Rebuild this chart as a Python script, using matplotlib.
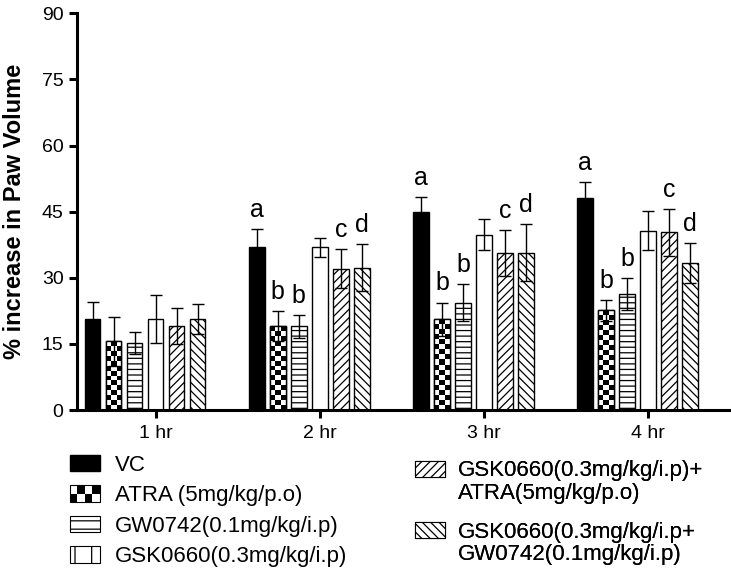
import numpy as np
import matplotlib
matplotlib.use("Agg")
import matplotlib.pyplot as plt
from matplotlib.patches import Patch, Rectangle
from matplotlib.legend_handler import HandlerBase

plt.rcParams['font.family'] = ['Liberation Sans', 'DejaVu Sans']
plt.rcParams['hatch.linewidth'] = 0.9

# data
times = ['1 hr', '2 hr', '3 hr', '4 hr']
labels = ['VC', 'ATRA (5mg/kg/p.o)', 'GW0742(0.1mg/kg/i.p)', 'GSK0660(0.3mg/kg/i.p)',
          'GSK0660(0.3mg/kg/i.p)+\nATRA(5mg/kg/p.o)',
          'GSK0660(0.3mg/kg/i.p+\nGW0742(0.1mg/kg/i.p)']
vc = [20.6, 36.9, 45.0, 48.0]
atra = [15.6, 19.0, 20.6, 22.6]
gw = [15.3, 19.0, 24.4, 26.4]
gsk = [20.6, 36.9, 39.8, 40.7]
gsk_atra = [19.0, 32.1, 35.7, 40.3]
gsk_gw = [20.6, 32.3, 35.7, 33.4]
vc_err = [4.0, 4.1, 3.4, 3.8]
atra_err = [5.6, 3.4, 3.8, 2.4]
gw_err = [2.5, 2.6, 4.1, 3.6]
gsk_err = [5.4, 2.2, 3.6, 4.5]
gsk_atra_err = [4.1, 4.5, 5.2, 5.4]
gsk_gw_err = [3.4, 5.4, 6.5, 4.5]
# significance letters (none at 1 hr)
sig = [['', 'a', 'a', 'a'], ['', 'b', 'b', 'b'], ['', 'b', 'b', 'b'],
       ['', '', '', ''], ['', 'c', 'c', 'c'], ['', 'd', 'd', 'd']]

series = [vc, atra, gw, gsk, gsk_atra, gsk_gw]
errs = [vc_err, atra_err, gw_err, gsk_err, gsk_atra_err, gsk_gw_err]
faces = ['black', 'white', 'white', 'white', 'white', 'white']
hatches = [None, None, '---', None, '////', '\\\\\\\\']

fig = plt.figure(figsize=(7.31, 5.76), dpi=100)
ax = fig.add_axes([0.105, 0.288, 0.894, 0.689])

x = np.arange(len(times))
step = 0.128
w = 0.095
for i, (vals, err) in enumerate(zip(series, errs)):
    pos = x + (i - 3) * step
    bars = ax.bar(pos, vals, w, color=faces[i], edgecolor='black', linewidth=1,
                  hatch=hatches[i], zorder=2)
    ax.errorbar(pos, vals, yerr=err, fmt='none', ecolor='black', elinewidth=1,
                capsize=4, capthick=1, zorder=3)
    if i == 1:
        # checkerboard fill for ATRA
        for b in bars:
            x0, h = b.get_x(), b.get_height()
            nrow = int(round(h / 1.13))
            grid = (np.indices((nrow, 3)).sum(axis=0) % 2).astype(float)
            im = ax.imshow(grid, cmap='gray', extent=[x0, x0 + w, 0, h],
                           origin='lower', interpolation='nearest', aspect='auto',
                           zorder=2.1)
            im.set_clip_path(b)
            ax.add_patch(Rectangle((x0, 0), w, h, fill=False, edgecolor='black',
                                   linewidth=1, zorder=2.2))
    for j in range(len(times)):
        if sig[i][j]:
            ax.text(pos[j], vals[j] + err[j] + 1.6, sig[i][j], ha='center',
                    va='bottom', fontsize=18)

ax.set_xlim(-0.48, 3.5)
ax.set_ylim(0, 90)
ax.set_yticks(np.arange(0, 91, 15))
ax.set_xticks(x)
ax.set_xticklabels(times)
ax.spines['top'].set_visible(False)
ax.spines['right'].set_visible(False)
ax.spines['left'].set_linewidth(2.2)
ax.spines['bottom'].set_linewidth(2.2)
ax.tick_params(axis='both', width=2.2, length=6, labelsize=14)
ax.tick_params(axis='x', pad=5)
ax.set_ylabel('% increase in Paw Volume', fontsize=17, fontweight='bold')
ax.yaxis.set_label_coords(-0.078, 0.5)


class CheckerHandler(HandlerBase):
    def create_artists(self, legend, orig_handle, xdescent, ydescent, width,
                       height, fontsize, trans):
        arts = []
        nx, ny = 4, 2
        for a in range(nx):
            for b in range(ny):
                col = 'black' if (a + b) % 2 == 0 else 'white'
                arts.append(Rectangle((-xdescent + a * width / nx, -ydescent + b * height / ny),
                                      width / nx, height / ny, facecolor=col,
                                      edgecolor='none', transform=trans))
        arts.append(Rectangle((-xdescent, -ydescent), width, height, fill=False,
                              edgecolor='black', linewidth=0.8, transform=trans))
        return arts


leg_kw = dict(frameon=False, fontsize=16, handlelength=1.35, handleheight=0.75,
              borderaxespad=0)
checker = object()
h_left = [Patch(facecolor='black', edgecolor='black'), checker,
          Patch(facecolor='white', edgecolor='black', hatch='--', linewidth=0.8),
          Patch(facecolor='white', edgecolor='black', hatch='|', linewidth=0.8)]
leg1 = fig.legend(h_left, labels[:4], loc='upper left', bbox_to_anchor=(0.0835, 0.226),
                  handletextpad=0.68, labelspacing=0.43,
                  handler_map={checker: CheckerHandler()}, **leg_kw)

# right column: handle sits next to the first line of each two-line label
blank = Patch(facecolor='none', edgecolor='none')
right_hatch = ['////', '\\\\\\\\']
right_top = [0.216, 0.110]
for lab, hh, top in zip(labels[4:], right_hatch, right_top):
    lines = lab.split('\n')
    hp = Patch(facecolor='white', edgecolor='black', hatch=hh, linewidth=0.8)
    lg = fig.legend([hp, blank], lines, loc='upper left', bbox_to_anchor=(0.5556, top),
                    handletextpad=0.6, labelspacing=0.05, **leg_kw)
    fig.add_artist(lg)

fig.savefig('out.png', dpi=100)
